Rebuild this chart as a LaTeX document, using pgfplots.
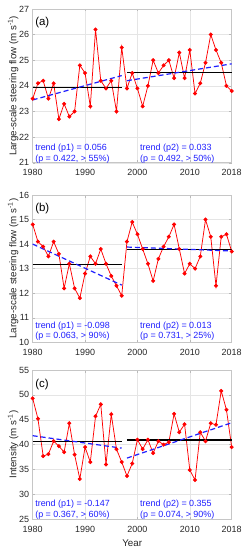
\documentclass[border=0pt]{standalone}
\usepackage{pgfplots}
\pgfplotsset{compat=1.18}
\usepackage{fontspec}
\setmainfont{Liberation Sans}
\definecolor{tickgray}{gray}{0.15}
\definecolor{trendblue}{rgb}{0.12,0.12,1}

\pgfplotsset{
 panel/.style={
   scale only axis, width=199bp, xmin=1980, xmax=2018,
   xtick={1980,1990,2000,2010,2018},
   grid=major, major grid style={gray!20, line width=0.4bp},
   axis line style={gray!45, line width=0.5bp},
   tick style={gray!55, line width=0.4bp},
   tick align=inside, major tick length=2.5bp,
   tick label style={font=\fontsize{9}{10}\selectfont, text=tickgray},
   xticklabel style={yshift=-3bp},
   /pgf/number format/assume math mode=true,
   /pgf/number format/1000 sep={},
   every axis y label/.style={at={(rel axis cs:-0.071,0.5)}, rotate=90, anchor=south, inner sep=0pt, font=\fontsize{9.8}{11}\selectfont, text=tickgray},
   every axis x label/.style={at={(rel axis cs:0.5,0)}, anchor=north, yshift=-16.5bp, font=\fontsize{9.8}{11}\selectfont, text=tickgray},
   clip=false,
 },
 dataline/.style={red, line width=0.75bp, mark=*, mark size=1.6bp, mark options={solid, fill=red, draw=red}},
 meanline/.style={black, line width=1.2bp, no marks},
 trendline/.style={trendblue, dash pattern=on 5bp off 3bp, line width=1.2bp, no marks},
}
\tikzset{
 ttext/.style={anchor=base west, inner sep=0pt, text=trendblue, font=\fontsize{9}{10}\selectfont},
 plabel/.style={anchor=west, inner sep=0pt, text=black, font=\fontsize{11.5}{12}\selectfont},
}

\begin{document}
\begin{tikzpicture}
\useasboundingbox (0,0) rectangle (244bp,-550bp);

% ---------------- (a)
\begin{axis}[panel, at={(32.7bp,-9bp)}, anchor=north west, height=153.7bp,
  ymin=21, ymax=27, ytick={21,22,...,27},
  ylabel={Large-scale steering flow (m s\textsuperscript{-1})}]
\addplot[dataline] coordinates {
(1980,23.5)(1981,24.1)(1982,24.2)(1983,23.5)(1984,24.1)(1985,22.7)(1986,23.3)(1987,22.8)(1988,23.0)(1989,24.8)
(1990,24.5)(1991,23.2)(1992,26.2)(1993,24.2)(1994,23.9)(1995,24.2)(1996,23.0)(1997,25.5)(1998,23.9)(1999,24.5)
(2000,23.9)(2001,23.2)(2002,24.0)(2003,25.0)(2004,24.5)(2005,24.8)(2006,25.0)(2007,24.3)(2008,25.3)(2009,24.3)
(2010,25.4)(2011,23.7)(2012,24.1)(2013,24.9)(2014,26.0)(2015,25.4)(2016,24.9)(2017,24.0)(2018,23.8)};
\addplot[meanline] coordinates {(1980,23.93)(1997,23.93)};
\addplot[meanline] coordinates {(1998,24.52)(2018,24.52)};
\addplot[trendline] coordinates {(1980,23.45)(1997,24.40)};
\addplot[trendline] coordinates {(1998,24.20)(2018,24.86)};
\node[plabel] at (rel axis cs:0.012,0.909) {(a)};
\node[ttext] at (rel axis cs:0.012,0.078) {trend (p1) = 0.056};
\node[ttext] at (rel axis cs:0.012,0.009) {(p = 0.422, > 55\%)};
\node[ttext] at (rel axis cs:0.539,0.078) {trend (p2) = 0.033};
\node[ttext] at (rel axis cs:0.539,0.009) {(p = 0.492, > 50\%)};
\end{axis}

% ---------------- (b)
\begin{axis}[panel, at={(32.7bp,-195bp)}, anchor=north west, height=147.3bp,
  ymin=10, ymax=16, ytick={10,11,...,16},
  ylabel={Large-scale steering flow (m s\textsuperscript{-1})}]
\addplot[dataline] coordinates {
(1980,14.8)(1981,14.1)(1982,13.9)(1983,13.5)(1984,14.1)(1985,13.6)(1986,12.2)(1987,13.2)(1988,12.2)(1989,11.8)
(1990,12.8)(1991,13.5)(1992,13.2)(1993,13.8)(1994,13.2)(1995,12.7)(1996,12.3)(1997,11.9)(1998,14.1)(1999,14.9)
(2000,14.4)(2001,13.8)(2002,13.2)(2003,12.5)(2004,13.4)(2005,13.9)(2006,14.3)(2007,14.8)(2008,13.8)(2009,12.8)
(2010,13.2)(2011,13.0)(2012,13.5)(2013,15.0)(2014,14.3)(2015,12.3)(2016,14.3)(2017,14.4)(2018,13.7)};
\addplot[meanline] coordinates {(1980,13.16)(1997,13.16)};
\addplot[meanline] coordinates {(1998,13.79)(2018,13.79)};
\addplot[trendline] coordinates {(1980,14.00)(1997,12.33)};
\addplot[trendline] coordinates {(1998,13.88)(2018,13.72)};
\node[plabel] at (rel axis cs:0.012,0.905) {(b)};
\node[ttext] at (rel axis cs:0.012,0.095) {trend (p1) = -0.098};
\node[ttext] at (rel axis cs:0.012,0.025) {(p = 0.063, > 90\%)};
\node[ttext] at (rel axis cs:0.539,0.095) {trend (p2) = 0.013};
\node[ttext] at (rel axis cs:0.539,0.025) {(p = 0.731, > 25\%)};
\end{axis}

% ---------------- (c)
\begin{axis}[panel, at={(32.7bp,-370bp)}, anchor=north west, height=149.3bp,
  ymin=25, ymax=55, ytick={25,30,...,55},
  ylabel={Intensity (m s\textsuperscript{-1})}, xlabel={Year}]
\addplot[dataline] coordinates {
(1980,49.3)(1981,45.2)(1982,37.7)(1983,38.1)(1984,40.7)(1985,39.7)(1986,38.5)(1987,44.3)(1988,38.0)(1989,33.1)
(1990,39.5)(1991,36.5)(1992,45.7)(1993,48.1)(1994,36.0)(1995,46.1)(1996,39.1)(1997,36.5)(1998,33.7)(1999,36.2)
(2000,41.0)(2001,39.1)(2002,41.0)(2003,38.3)(2004,40.7)(2005,40.0)(2006,40.5)(2007,46.2)(2008,42.5)(2009,44.1)
(2010,34.9)(2011,32.9)(2012,42.5)(2013,40.7)(2014,44.3)(2015,44.0)(2016,50.8)(2017,47.0)(2018,39.5)};
\addplot[meanline] coordinates {(1980,40.67)(1997,40.67)};
\addplot[meanline] coordinates {(1998,40.95)(2018,40.95)};
\addplot[trendline] coordinates {(1980,41.8)(1997,39.3)};
\addplot[trendline] coordinates {(1998,37.3)(2018,44.4)};
\node[plabel] at (rel axis cs:0.012,0.905) {(c)};
\node[ttext] at (rel axis cs:0.012,0.085) {trend (p1) = -0.147};
\node[ttext] at (rel axis cs:0.012,0.014) {(p = 0.367, > 60\%)};
\node[ttext] at (rel axis cs:0.539,0.085) {trend (p2) = 0.355};
\node[ttext] at (rel axis cs:0.539,0.014) {(p = 0.074, > 90\%)};
\end{axis}
\end{tikzpicture}
\end{document}
